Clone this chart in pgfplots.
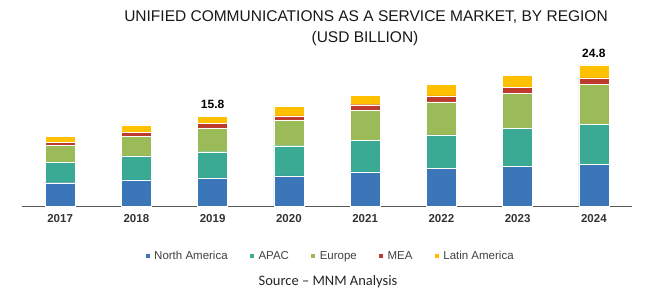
\documentclass[border=0pt]{standalone}
\usepackage{pgfplots}
\pgfplotsset{compat=1.18}
\usepackage{fontspec}
\setmainfont{Liberation Sans}
\newfontfamily\carlito{Carlito}
\definecolor{cNA}{HTML}{3A76B8}
\definecolor{cAPAC}{HTML}{3BAA95}
\definecolor{cEU}{HTML}{9BBB59}
\definecolor{cMEA}{HTML}{BE3A2C}
\definecolor{cLA}{HTML}{FFC000}
\begin{document}
\begin{tikzpicture}[x=1pt,y=1pt]
\path[use as bounding box] (0,0) rectangle (650,293);
\begin{axis}[
  at={(22pt,87pt)}, anchor=south west,
  scale only axis, width=610pt, height=159.3pt,
  xmin=-0.5, xmax=7.5, ymin=0, ymax=28,
  ybar stacked, bar width=30pt,
  axis x line=bottom, axis y line=none,
  x axis line style={-, draw=black!65, line width=0.8pt},
  xtick={0,...,7}, xticklabels={2017,2018,2019,2020,2021,2022,2023,2024},
  major tick length=0pt,
  xticklabel style={font=\fontsize{11.5}{12}\selectfont\bfseries, text=black!80, yshift=-5pt},
  legend columns=5,
  legend style={at={(0.505,-0.314)}, anchor=center, draw=none, fill=none,
    font=\fontsize{11.5}{12}\selectfont, text=black!75,
    /tikz/every even column/.append style={column sep=20pt},
    /tikz/every odd column/.append style={column sep=2.5pt},
    inner sep=0pt, nodes={inner sep=1.5pt}},
  legend image code/.code={\fill[#1] (0pt,-2.5pt) rectangle (5pt,2.5pt);},
  every axis plot/.append style={draw=white, line width=0.3pt},
]
\addplot[fill=cNA] coordinates {(0,4.1) (1,4.6) (2,4.95) (3,5.3) (4,6.0) (5,6.6) (6,7.0) (7,7.3)};
\addplot[fill=cAPAC] coordinates {(0,3.6) (1,4.2) (2,4.6) (3,5.3) (4,5.6) (5,5.9) (6,6.6) (7,7.1)};
\addplot[fill=cEU] coordinates {(0,3.0) (1,3.5) (2,4.1) (3,4.5) (4,5.2) (5,5.8) (6,6.2) (7,7.0)};
\addplot[fill=cMEA] coordinates {(0,0.55) (1,0.65) (2,0.9) (3,0.75) (4,1.0) (5,1.05) (6,1.1) (7,1.1)};
\addplot[fill=cLA] coordinates {(0,0.95) (1,1.3) (2,1.25) (3,1.7) (4,1.6) (5,2.0) (6,2.05) (7,2.3)};
\legend{North America, APAC, Europe, MEA, Latin America}
\node[anchor=south, inner sep=0pt, yshift=7pt, font=\fontsize{12}{12}\selectfont\bfseries] at (axis cs:2,15.8) {15.8};
\node[anchor=south, inner sep=0pt, yshift=7pt, font=\fontsize{12}{12}\selectfont\bfseries] at (axis cs:7,24.8) {24.8};
\end{axis}
\node[font=\fontsize{15.5}{16}\selectfont, text=black!90] at (366,276) {UNIFIED COMMUNICATIONS AS A SERVICE MARKET, BY REGION};
\node[font=\fontsize{15.5}{16}\selectfont, text=black!90] at (365,255) {(USD BILLION)};
\node[font=\carlito\fontsize{14.5}{15}\selectfont, text=black!85] at (328,11) {Source – MNM Analysis};
\end{tikzpicture}
\end{document}
